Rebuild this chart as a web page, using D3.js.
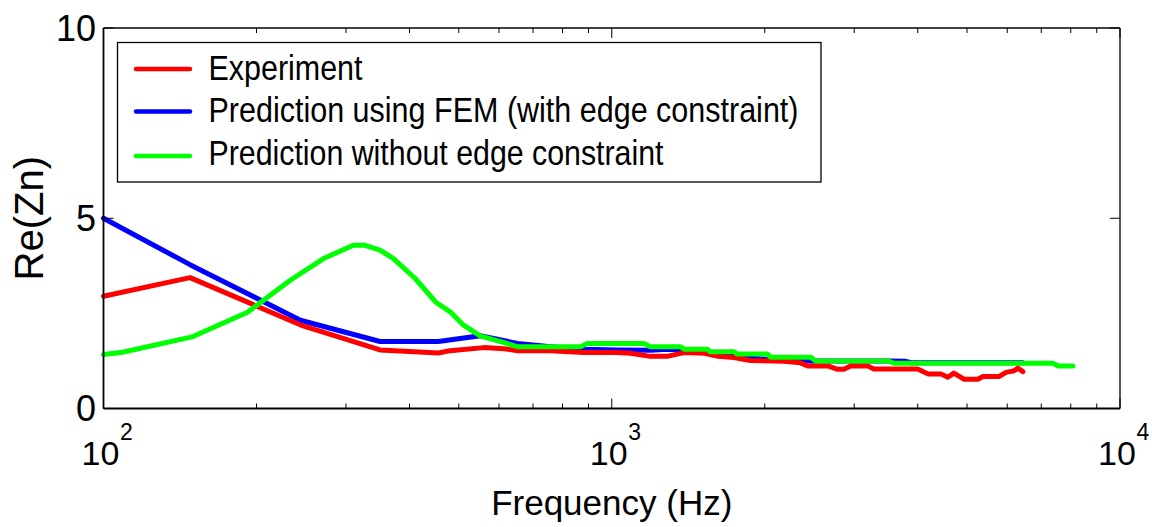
<!DOCTYPE html>
<html>
<head>
<meta charset="utf-8">
<script src="https://cdn.jsdelivr.net/npm/d3@7"></script>
<style>
  html, body { margin: 0; padding: 0; background: #fff; }
  svg { display: block; font-family: "Liberation Sans", Arial, sans-serif; }
</style>
</head>
<body>
<svg id="chart" width="1152" height="527"></svg>
<script>
// Measured real part of normalised impedance vs frequency
const expFreq = [100, 148, 247, 350, 456, 481, 560, 614, 653, 758, 882, 1025, 1088, 1191, 1285, 1387, 1522, 1619, 1740, 1873, 2181, 2350, 2430, 2660, 2784, 2861, 2953, 3189, 3278, 4000, 4187, 4441, 4584, 4711, 4930, 5254, 5374, 5777, 5965, 6182, 6296, 6441];
const expRe   = [2.95, 3.44, 2.17, 1.54, 1.46, 1.52, 1.60, 1.57, 1.52, 1.52, 1.47, 1.47, 1.45, 1.37, 1.37, 1.47, 1.45, 1.37, 1.34, 1.26, 1.24, 1.20, 1.12, 1.12, 1.03, 1.03, 1.12, 1.12, 1.04, 1.04, 0.91, 0.91, 0.82, 0.93, 0.77, 0.77, 0.84, 0.84, 0.95, 0.99, 1.06, 0.97];

// FEM prediction with edge constraint
const femFreq = [100, 148, 244, 350, 456, 551, 653, 758, 882, 1025, 1190, 1290, 1520, 1600, 1760, 2020, 2400, 3508, 3790, 3900, 6440];
const femRe   = [5.0, 3.78, 2.32, 1.76, 1.76, 1.91, 1.71, 1.62, 1.56, 1.54, 1.53, 1.56, 1.52, 1.43, 1.36, 1.29, 1.25, 1.25, 1.24, 1.20, 1.20];

// Prediction without edge constraint
const noEdgeFreq = [100, 109, 150, 192, 233, 271, 310, 327, 350, 372, 411, 450, 481, 511, 551, 614, 653, 868, 894, 1157, 1191, 1366, 1387, 1542, 1564, 1740, 1766, 2024, 2054, 2462, 2520, 3508, 3588, 7379, 7550, 8078];
const noEdgeRe   = [1.42, 1.48, 1.89, 2.53, 3.37, 3.94, 4.29, 4.29, 4.16, 3.94, 3.41, 2.80, 2.54, 2.19, 1.91, 1.73, 1.62, 1.62, 1.71, 1.71, 1.62, 1.62, 1.56, 1.56, 1.49, 1.49, 1.43, 1.43, 1.35, 1.35, 1.25, 1.25, 1.19, 1.19, 1.12, 1.12];

const seriesNames  = ["Experiment", "Prediction using FEM (with edge constraint)", "Prediction without edge constraint"];
const seriesColors = ["#ff0000", "#0000ff", "#00ff00"];

const xMajorTicks = [100, 1000, 10000];
const xMajorExps  = ["2", "3", "4"];
const yTicks = [0, 5, 10];
const xAxisTitle = "Frequency (Hz)";
const yAxisTitle = "Re(Zn)";

const svg = d3.select("#chart");
const plotLeft = 103.5, plotRight = 1120, plotTop = 28, plotBottom = 408.5;

const x = d3.scaleLog().domain([100, 10000]).range([plotLeft, plotRight]);
const y = d3.scaleLinear().domain([0, 10]).range([plotBottom, plotTop]);

// minor log ticks 2..9 in each decade
const xMinorTicks = [];
[100, 1000].forEach(d => { for (let k = 2; k <= 9; k++) xMinorTicks.push(d * k); });

const plot = svg.append("g");

// data lines
const series = [
  { f: expFreq, v: expRe },
  { f: femFreq, v: femRe },
  { f: noEdgeFreq, v: noEdgeRe }
];
const line = d3.line().x(d => x(d[0])).y(d => y(d[1]));
const drawOrder = [1, 0, 2];
drawOrder.forEach(i => {
  const s = series[i];
  plot.append("path")
    .datum(s.f.map((f, j) => [f, s.v[j]]))
    .attr("d", line)
    .attr("fill", "none")
    .attr("stroke", seriesColors[i])
    .attr("stroke-width", 5)
    .attr("stroke-linejoin", "round")
    .attr("stroke-linecap", "round");
});

// axes box
const axes = svg.append("g").attr("stroke", "#000").attr("fill", "none");
axes.append("line").attr("x1", plotLeft).attr("x2", plotRight).attr("y1", plotTop).attr("y2", plotTop).attr("stroke-width", 1.3);
axes.append("line").attr("x1", plotRight).attr("x2", plotRight).attr("y1", plotTop).attr("y2", plotBottom).attr("stroke-width", 1.3);
axes.append("line").attr("x1", plotLeft).attr("x2", plotRight).attr("y1", plotBottom).attr("y2", plotBottom).attr("stroke-width", 2);
axes.append("line").attr("x1", plotLeft).attr("x2", plotLeft).attr("y1", plotTop).attr("y2", plotBottom).attr("stroke-width", 1.8);

// ticks pointing inward on all four sides
const tickG = svg.append("g").attr("stroke", "#000").attr("stroke-width", 1);
xMajorTicks.forEach(t => {
  tickG.append("line").attr("x1", x(t)).attr("x2", x(t)).attr("y1", plotBottom).attr("y2", plotBottom - 10);
  tickG.append("line").attr("x1", x(t)).attr("x2", x(t)).attr("y1", plotTop).attr("y2", plotTop + 10);
});
xMinorTicks.forEach(t => {
  tickG.append("line").attr("x1", x(t)).attr("x2", x(t)).attr("y1", plotBottom).attr("y2", plotBottom - 5);
  tickG.append("line").attr("x1", x(t)).attr("x2", x(t)).attr("y1", plotTop).attr("y2", plotTop + 5);
});
yTicks.forEach(t => {
  tickG.append("line").attr("x1", plotLeft).attr("x2", plotLeft + 10).attr("y1", y(t)).attr("y2", y(t));
  tickG.append("line").attr("x1", plotRight).attr("x2", plotRight - 10).attr("y1", y(t)).attr("y2", y(t));
});

// y tick labels
svg.append("g").selectAll("text").data(yTicks).join("text")
  .attr("x", 96).attr("y", d => y(d) + 12.5)
  .attr("text-anchor", "end")
  .attr("font-size", 36)
  .text(d => d);

// x tick labels as 10 with superscript exponent
const xl = svg.append("g");
xMajorTicks.forEach((t, i) => {
  const cx = x(t) - 3;
  const base = xl.append("text")
    .attr("x", cx).attr("y", 465)
    .attr("text-anchor", "middle")
    .attr("font-size", 34)
    .text("10");
  const w = base.node().getComputedTextLength();
  xl.append("text")
    .attr("x", cx + w / 2 + 0.5).attr("y", 440)
    .attr("font-size", 23)
    .text(xMajorExps[i]);
});

// axis titles
svg.append("text")
  .attr("x", (plotLeft + plotRight) / 2).attr("y", 515)
  .attr("text-anchor", "middle")
  .attr("font-size", 35)
  .text(xAxisTitle);

svg.append("text")
  .attr("transform", `translate(43,${(plotTop + plotBottom) / 2}) rotate(-90)`)
  .attr("text-anchor", "middle")
  .attr("font-size", 40)
  .text(yAxisTitle);

// legend
const lg = svg.append("g");
lg.append("rect")
  .attr("x", 117.5).attr("y", 42.5).attr("width", 703.5).attr("height", 139.5)
  .attr("fill", "#fff").attr("stroke", "#000").attr("stroke-width", 1.3);
const legendLineY = [69, 111.5, 156];
const legendBase  = [79.7, 121.5, 164.7];
const legendWidth = [154, 590, 455];
seriesNames.forEach((name, i) => {
  lg.append("line")
    .attr("x1", 136).attr("x2", 190)
    .attr("y1", legendLineY[i]).attr("y2", legendLineY[i])
    .attr("stroke", seriesColors[i]).attr("stroke-width", 4.5)
    .attr("stroke-linecap", "round");
  lg.append("text")
    .attr("x", 208.5).attr("y", legendBase[i])
    .attr("font-size", 35)
    .attr("textLength", legendWidth[i])
    .attr("lengthAdjust", "spacingAndGlyphs")
    .text(name);
});
</script>
</body>
</html>
